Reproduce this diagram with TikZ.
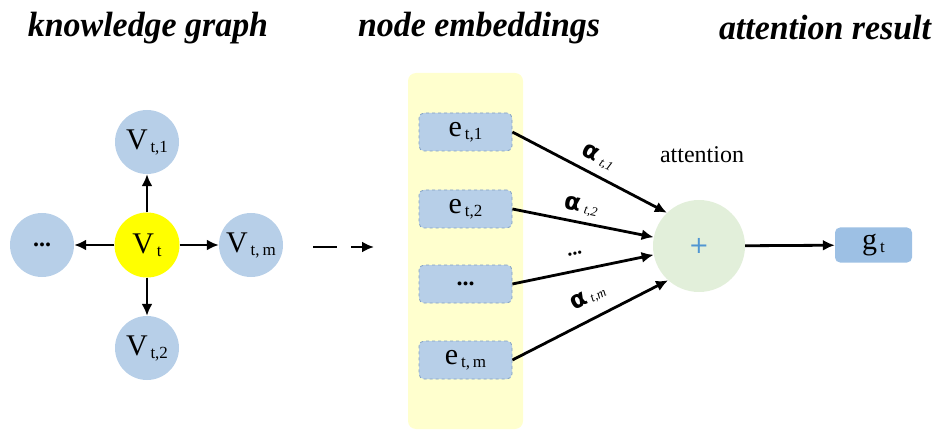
\documentclass[tikz,border=0pt]{standalone}
\usepackage{fontspec}
\setmainfont{Liberation Serif}
\newfontfamily\alphafont{DejaVu Sans}
\usetikzlibrary{arrows.meta}
\definecolor{nodeblue}{RGB}{183,207,232}
\definecolor{eborder}{RGB}{130,160,195}
\definecolor{gblue}{RGB}{157,192,228}
\definecolor{vyellow}{RGB}{255,255,0}
\definecolor{panelyellow}{RGB}{255,255,206}
\definecolor{sumgreen}{RGB}{226,239,218}
\definecolor{plusblue}{RGB}{80,150,210}
\newcommand\mysub[3]{{\fontsize{#3}{#3}\selectfont #1}\raisebox{-0.3em}{\fontsize{17}{17}\selectfont\,#2}}
\newcommand\alab[1]{{\fontsize{24}{24}\selectfont\alphafont\bfseries α}\hspace{4pt}\raisebox{-0.1em}{\fontsize{13}{13}\selectfont\itshape #1}}
\begin{document}
\begin{tikzpicture}[x=1pt,y=-1pt,
  ttl/.style={font=\fontsize{30}{30}\selectfont\bfseries\itshape, inner sep=0pt},
  nb/.style={circle,fill=nodeblue,minimum size=64pt,inner sep=0pt},
  arr/.style={line width=2.8pt,-{Latex[length=12pt,width=11pt]}},
  ebox/.style={rounded corners=5pt,draw=eborder,dashed,line width=0.8pt,fill=nodeblue,minimum width=93pt,minimum height=38pt,inner sep=0pt},
  alpha/.style={inner sep=0pt}
  ]
\useasboundingbox (0,0) rectangle (936,430);
% titles
\node[ttl] (t1) at (148,28) {\scalebox{1.13}[1.17]{knowledge graph}};
\node[ttl] (t2) at (479,28) {\scalebox{1.13}[1.17]{node embeddings}};
\node[ttl] (t3) at (825,28) {\scalebox{1.13}[1.17]{attention result}};
% knowledge graph
\node[circle,fill=vyellow,minimum size=65pt,inner sep=0pt] (vt) at (147,245) {\mysub{V}{t}{30}};
\node[nb] (v1) at (147,142) {\mysub{V}{t,1}{30}};
\node[nb] (v2) at (147,348) {\mysub{V}{t,2}{30}};
\node[nb] (vd) at (42,245) {\fontsize{24}{24}\selectfont\textbf{...}};
\node[nb] (vm) at (251,245) {\mysub{V}{t,\,m}{30}};
\draw[arr] (vt) -- (v1);
\draw[arr] (vt) -- (v2);
\draw[arr] (vt) -- (vd);
\draw[arr] (vt) -- (vm);
% dashed arrow
\coordinate (da) at (313,247);
\coordinate (db) at (337,247);
\coordinate (dc) at (351,247);
\coordinate (dd) at (374,247);
\draw[line width=2.8pt] (da) -- (db);
\draw[arr] (dc) -- (dd);
% embeddings panel
\node[fill=panelyellow,rounded corners=8pt,minimum width=115pt,minimum height=356pt,inner sep=0pt] (panel) at (465.5,251) {};
\node[ebox] (e1) at (465.5,132) {\mysub{e}{t,1}{30}};
\node[ebox] (e2) at (465.5,209) {\mysub{e}{t,2}{30}};
\node[ebox] (ed) at (465.5,284) {\fontsize{24}{24}\selectfont\textbf{...}};
\node[ebox] (em) at (465.5,360) {\mysub{e}{t,\,m}{30}};
% attention
\node[circle,fill=sumgreen,minimum size=92pt,inner sep=0pt] (sum) at (699,246) {\textcolor{plusblue}{\fontsize{24}{24}\selectfont\alphafont +}};
\draw[arr] (e1.east) -- (sum.134);
\draw[arr] (e2.east) -- (sum.169);
\draw[arr] (ed.east) -- (sum.191);
\draw[arr] (em.east) -- (sum.228);
\node[alpha,rotate=-27] (a1) at (598,158) {\alab{t,1}};
\node[alpha,rotate=-11] (a2) at (581,207) {\alab{t,2}};
\node[alpha,rotate=12] (a3) at (575,254) {\fontsize{20}{20}\selectfont\textbf{...}};
\node[alpha,rotate=27] (am) at (588,298) {\alab{t,m}};
\node[inner sep=0pt] (att) at (702,155) {\fontsize{24}{24}\selectfont attention};
% result
\node[rounded corners=5pt,fill=gblue,minimum width=77pt,minimum height=35pt,inner sep=0pt] (g) at (873.5,245) {\mysub{g}{t}{30}};
\draw[arr] (sum) -- (g);
\end{tikzpicture}
\end{document}
